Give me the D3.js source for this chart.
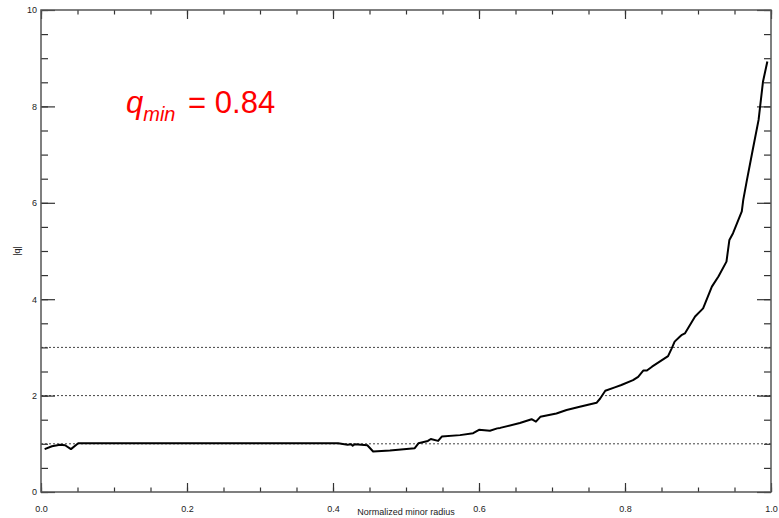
<!DOCTYPE html>
<html><head><meta charset="utf-8">
<script src="https://cdn.jsdelivr.net/npm/d3@7"></script>
<style>body{margin:0;background:#fff}svg{display:block}</style>
</head><body>
<script>
const radius = [0.005,0.015,0.026,0.033,0.041,0.051,0.10,0.20,0.30,0.407,0.420,0.425,0.427,0.430,0.447,0.455,0.478,0.512,0.517,0.530,0.534,0.544,0.549,0.574,0.592,0.600,0.615,0.625,0.629,0.656,0.672,0.678,0.684,0.706,0.720,0.738,0.761,0.766,0.773,0.786,0.795,0.811,0.818,0.825,0.830,0.837,0.859,0.864,0.868,0.875,0.878,0.882,0.896,0.907,0.919,0.928,0.939,0.943,0.948,0.960,0.962,0.967,0.975,0.983,0.989,0.995];
const qValues = [0.89,0.95,0.98,0.97,0.89,1.01,1.01,1.01,1.01,1.01,0.98,0.99,0.96,0.99,0.97,0.84,0.86,0.91,1.01,1.06,1.10,1.06,1.15,1.18,1.22,1.29,1.27,1.32,1.33,1.43,1.51,1.46,1.56,1.63,1.70,1.77,1.85,1.94,2.10,2.17,2.22,2.32,2.39,2.52,2.52,2.60,2.82,2.98,3.12,3.22,3.26,3.29,3.64,3.81,4.26,4.47,4.78,5.23,5.37,5.82,6.06,6.47,7.10,7.72,8.51,8.93];
const xTicks = [0,0.2,0.4,0.6,0.8,1.0];
const yTicks = [0,2,4,6,8,10];
const gridLevels = [1,2,3];
const annotation = {base:"q", sub:"min", rest:" = 0.84"};

const W=779,H=518, L=41,R=771,T=10,B=492;
const svg=d3.select("body").append("svg").attr("width",W).attr("height",H);
const x=d3.scaleLinear().domain([0,1]).range([L,R]);
const y=d3.scaleLinear().domain([0,10]).range([B,T]);
const axCol="#333";

// grid dotted lines
svg.selectAll("line.grid").data(gridLevels).enter().append("line")
  .attr("x1",L).attr("x2",R).attr("y1",d=>y(d)).attr("y2",d=>y(d))
  .attr("stroke","#444").attr("stroke-width",1).attr("stroke-dasharray","2,2");

function styleAxis(g){
  g.select(".domain").remove();
  g.selectAll(".tick line").attr("stroke",axCol).attr("stroke-width",1.2);
  g.selectAll("text").attr("font-family","Liberation Sans, Arial, sans-serif").attr("font-size",9).attr("fill","#222");
}
const xMinor=d3.range(0,1.0001,0.05);
const yMinor=d3.range(0,10.001,0.5);
// bottom
svg.append("g").attr("transform",`translate(0,${B})`).call(d3.axisBottom(x).tickValues(xMinor).tickSize(-4.5).tickFormat("")).call(styleAxis);
svg.append("g").attr("transform",`translate(0,${B})`).call(d3.axisBottom(x).tickValues(xTicks).tickSize(-9).tickPadding(14).tickFormat(d3.format(".1f"))).call(styleAxis);
// top
svg.append("g").attr("transform",`translate(0,${T})`).call(d3.axisTop(x).tickValues(xMinor).tickSize(-4.5).tickFormat("")).call(styleAxis);
svg.append("g").attr("transform",`translate(0,${T})`).call(d3.axisTop(x).tickValues(xTicks).tickSize(-9).tickFormat("")).call(styleAxis);
// left
svg.append("g").attr("transform",`translate(${L},0)`).call(d3.axisLeft(y).tickValues(yMinor).tickSize(-7).tickFormat("")).call(styleAxis);
svg.append("g").attr("transform",`translate(${L},0)`).call(d3.axisLeft(y).tickValues(yTicks).tickSize(-14).tickPadding(4).tickFormat(d3.format("d"))).call(styleAxis);
// right
svg.append("g").attr("transform",`translate(${R},0)`).call(d3.axisRight(y).tickValues(yMinor).tickSize(-7).tickFormat("")).call(styleAxis);
svg.append("g").attr("transform",`translate(${R},0)`).call(d3.axisRight(y).tickValues(yTicks).tickSize(-14).tickFormat("")).call(styleAxis);

// frame
svg.append("rect").attr("x",L).attr("y",T).attr("width",R-L).attr("height",B-T)
  .attr("fill","none").attr("stroke","#555").attr("stroke-width",1.5);

// curve
const pts=radius.map((r,i)=>[r,qValues[i]]);
svg.append("path").datum(pts)
  .attr("d",d3.line().x(d=>x(d[0])).y(d=>y(d[1])))
  .attr("fill","none").attr("stroke","#000").attr("stroke-width",2).attr("stroke-linejoin","round");

// axis titles
svg.append("text").attr("x",(L+R)/2).attr("y",515).attr("text-anchor","middle")
  .attr("font-family","Liberation Sans, Arial, sans-serif").attr("font-size",9).attr("fill","#222")
  .text("Normalized minor radius");
svg.append("text").attr("transform",`translate(20,${(T+B)/2}) rotate(-90)`).attr("text-anchor","middle")
  .attr("font-family","Liberation Sans, Arial, sans-serif").attr("font-size",9).attr("fill","#222")
  .text("|q|");

// annotation
const ann=svg.append("text").attr("x",126).attr("y",113)
  .attr("font-family","Liberation Sans, Arial, sans-serif").attr("font-size",31).attr("fill","#ff0000");
ann.append("tspan").attr("font-style","italic").text(annotation.base);
ann.append("tspan").attr("font-style","italic").attr("font-size",20).attr("dy",8).text(annotation.sub);
ann.append("tspan").attr("dy",-8).attr("dx",4).text(annotation.rest);
</script>
</body></html>
